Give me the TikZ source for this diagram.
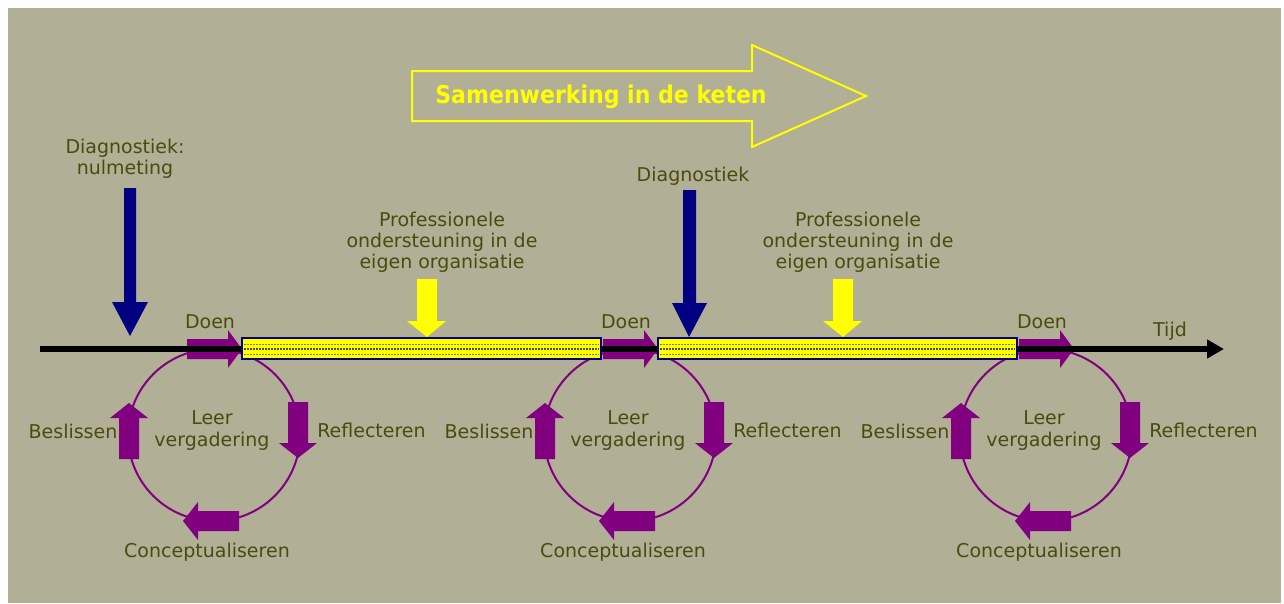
\documentclass[tikz,border=0pt]{standalone}
\usepackage{fontspec}
\setmainfont{DejaVu Sans}
\newfontfamily\titlefont{DejaVu Sans Condensed}
\usetikzlibrary{arrows.meta}
\definecolor{bg}{RGB}{177,175,150}
\definecolor{txt}{RGB}{77,74,14}
\definecolor{purp}{RGB}{128,0,128}
\definecolor{navy}{RGB}{0,0,128}
\definecolor{yel}{RGB}{255,255,0}
\tikzset{
  lbl/.style={text=txt, font=\fontsize{19}{21}\selectfont, inner sep=0pt, anchor=base},
  titlelbl/.style={text=yel, font=\titlefont\bfseries\fontsize{24.5}{28}\selectfont, inner sep=0pt, anchor=base},
  purpfill/.style={fill=purp, draw=none},
  navyfill/.style={fill=navy, draw=none},
  yelfill/.style={fill=yel, draw=none},
  cyclecircle/.style={draw=purp, line width=2pt},
  barbox/.style={fill=yel, draw=navy, line width=1.8pt},
  timeline/.style={line width=6pt, -{Triangle[length=17pt,width=18pt]}}
}
\begin{document}
\begin{tikzpicture}[x=1pt,y=-1pt]
\useasboundingbox (0,0) rectangle (1284,603);
\fill[white] (0,0) rectangle (1284,603);
\fill[bg] (8,8) rectangle (1281,603);

% big outline arrow
\draw[yel, line width=2pt, line join=miter]
  (412,71) -- (752,71) -- (752,45) -- (866,96) -- (752,147) -- (752,121) -- (412,121) -- cycle;
\node[titlelbl] (title) at (601,103) {Samenwerking in de keten};

% cycles
\foreach \o in {0,416,832}{
  \begin{scope}[xshift=\o pt]
    \draw[cyclecircle] (214,435) circle (86);
    % Doen arrow
    \fill[purpfill] (187,339) -- (228,339) -- (228,330) -- (242,349) -- (228,368) -- (228,359) -- (187,359) -- cycle;
    % Reflecteren arrow (down)
    \fill[purpfill] (288,402) -- (308,402) -- (308,443) -- (317,443) -- (298,458) -- (279,443) -- (288,443) -- cycle;
    % Beslissen arrow (up)
    \fill[purpfill] (119,459) -- (119,418) -- (110,418) -- (129,403) -- (148,418) -- (139,418) -- (139,459) -- cycle;
    % Conceptualiseren arrow (left)
    \fill[purpfill] (239,511) -- (198,511) -- (198,502) -- (183,521) -- (198,540) -- (198,531) -- (239,531) -- cycle;
  \end{scope}
}

% timeline
\coordinate (tstart) at (40,349);
\coordinate (tend) at (1224,349);
\draw[timeline] (tstart) -- (tend);

% bars
\foreach \o in {0,416}{
  \begin{scope}[xshift=\o pt]
    \draw[barbox] (242,338) rectangle (601,359);
    \draw[txt!70!yel, line width=1pt, dash pattern=on 1.5pt off 1.5pt] (244,344) -- (599,344);
    \draw[txt, line width=2pt, dash pattern=on 2pt off 1pt] (244,349) -- (599,349);
    \draw[txt!70!yel, line width=1pt, dash pattern=on 1.5pt off 1.5pt] (244,354) -- (599,354);
  \end{scope}
}

% blue arrows
\fill[navyfill] (124,188) -- (136,188) -- (136,302) -- (148,302) -- (130,336) -- (112,302) -- (124,302) -- cycle;
\fill[navyfill] (683,190) -- (696,190) -- (696,303) -- (707,303) -- (689,337) -- (672,303) -- (683,303) -- cycle;

% yellow arrows
\foreach \o in {0,416}{
  \fill[yelfill, xshift=\o pt] (417,279) -- (437,279) -- (437,321) -- (446,321) -- (427,337) -- (407,321) -- (417,321) -- cycle;
}

% labels
\node[lbl] (d1a) at (125,153) {Diagnostiek:};
\node[lbl] (d1b) at (125,174) {nulmeting};
\node[lbl] (d2) at (693,181) {Diagnostiek};
\foreach \o/\n in {0/a,416/b}{
  \node[lbl] (p\n1) at (442+\o,226) {Professionele};
  \node[lbl] (p\n2) at (442+\o,247) {ondersteuning in de};
  \node[lbl] (p\n3) at (442+\o,268) {eigen organisatie};
}
\foreach \o/\n in {0/a,416/b,832/c}{
  \node[lbl] (doen\n) at (210+\o,328) {Doen};
  \node[lbl] (leer\n) at (212+\o,424) {Leer};
  \node[lbl] (verg\n) at (212+\o,446) {vergadering};
  \node[lbl] (besl\n) at (73+\o,438) {Beslissen};
  \node[lbl] (refl\n) at (371.5+\o,437) {Reflecteren};
  \node[lbl] (conc\n) at (207+\o,557) {Conceptualiseren};
}
\node[lbl] (tijd) at (1170,336) {Tijd};
\end{tikzpicture}
\end{document}
